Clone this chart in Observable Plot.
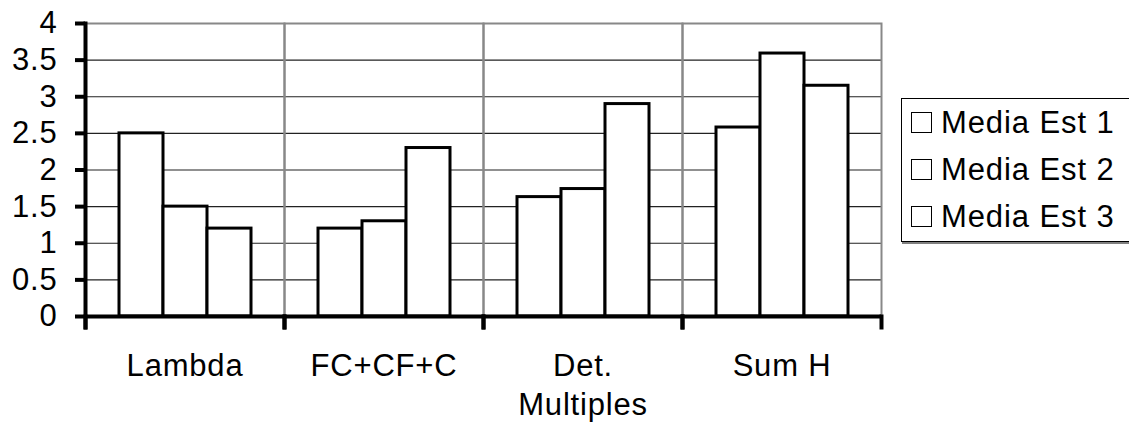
<!DOCTYPE html>
<html>
<head>
<meta charset="utf-8">
<script src="https://cdn.jsdelivr.net/npm/d3@7"></script>
<script src="https://cdn.jsdelivr.net/npm/@observablehq/plot@0.6"></script>
<style>
  html, body { margin: 0; padding: 0; background: #fff; }
  #wrap { position: relative; width: 1129px; height: 427px; overflow: hidden; font-family: 'Liberation Sans', Arial, sans-serif; }
  #legend { position: absolute; left: 901px; top: 98px; width: 260px; height: 144px; box-sizing: border-box;
            border: 1.5px solid #000; box-shadow: 1px 2px 0 #808080; background: #fff; }
  .row { height: 47px; display: flex; align-items: center; }
  .sw { width: 21px; height: 21px; box-sizing: border-box; border: 1.6px solid #000; background: #fff; margin-left: 9px; margin-right: 9px; }
  .lab { font-size: 31px; letter-spacing: 0.9px; color: #000; }
</style>
</head>
<body>
<div id="wrap"></div>
<script>
const categories = ["Lambda", "FC+CF+C", "Det. Multiples", "Sum H"];
const categoryLabels = ["Lambda", "FC+CF+C", "Det.\nMultiples", "Sum H"];
const seriesNames = ["Media Est 1", "Media Est 2", "Media Est 3"];
const est1 = [2.5, 1.2, 1.63, 2.58];
const est2 = [1.5, 1.3, 1.74, 3.59];
const est3 = [1.2, 2.3, 2.9, 3.15];
const yTicks = [0, 0.5, 1, 1.5, 2, 2.5, 3, 3.5, 4];
const gridTicks = [0.5, 1, 1.5, 2, 2.5, 3, 3.5];

const seriesValues = [est1, est2, est3];
const data = [];
categories.forEach((c, i) => {
  seriesNames.forEach((s, j) => data.push({cat: c, series: s, value: seriesValues[j][i]}));
});

const chart = Plot.plot({
  width: 1129,
  height: 427,
  marginLeft: 84,
  marginRight: 248,
  marginTop: 23,
  marginBottom: 111,
  style: {fontFamily: "'Liberation Sans', Arial, sans-serif", fontSize: "31px", letterSpacing: "0.8px", color: "#000", background: "#fff"},
  fx: {domain: categories, padding: 0, label: null},
  x: {domain: seriesNames, paddingInner: 0, paddingOuter: 0.73, axis: null},
  y: {domain: [0, 4], label: null},
  marks: [
    Plot.ruleY(gridTicks, {stroke: "#222", strokeWidth: 1.2}),
    Plot.frame({stroke: "#888", strokeWidth: 2}),
    Plot.barY(data, {fx: "cat", x: "series", y: "value", fill: "white", stroke: "black", strokeWidth: 3}),
    Plot.ruleY([0], {stroke: "black", strokeWidth: 4}),
    Plot.frame({anchor: "left", insetTop: 293, insetBottom: -11, stroke: "black", strokeWidth: 4}),
    Plot.frame({anchor: "right", insetTop: 293, insetBottom: -11, stroke: "black", strokeWidth: 4}),
    Plot.frame({anchor: "left", facetAnchor: "left", insetBottom: -11, stroke: "black", strokeWidth: 4}),
    Plot.axisY(yTicks, {tickSize: 10, tickPadding: 18, strokeWidth: 4, fontSize: 31,
      tickFormat: d => String(d), label: null}),
    Plot.axisFx({anchor: "bottom", tickSize: 0, tickPadding: 31, fontSize: 31, lineHeight: 1.28,
      tickFormat: d => categoryLabels[categories.indexOf(d)], label: null})
  ]
});

const wrap = document.getElementById("wrap");
wrap.appendChild(chart);

const legend = document.createElement("div");
legend.id = "legend";
seriesNames.forEach(s => {
  const row = document.createElement("div");
  row.className = "row";
  const sw = document.createElement("div");
  sw.className = "sw";
  const lab = document.createElement("span");
  lab.className = "lab";
  lab.textContent = s;
  row.appendChild(sw);
  row.appendChild(lab);
  legend.appendChild(row);
});
wrap.appendChild(legend);
</script>
</body>
</html>
